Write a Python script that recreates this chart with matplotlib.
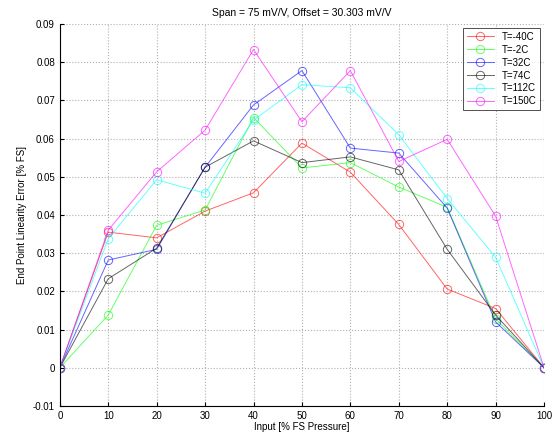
import numpy as np
import matplotlib
matplotlib.use('Agg')
import matplotlib.pyplot as plt

plt.rcParams['font.family'] = ['Liberation Sans', 'DejaVu Sans']

x = [0, 10, 20, 30, 40, 50, 60, 70, 80, 90, 100]

t_m40 = [0, 0.0355, 0.0340, 0.0410, 0.0458, 0.0588, 0.0512, 0.0375, 0.0206, 0.0155, 0]
t_m2 = [0, 0.0138, 0.0373, 0.0413, 0.0655, 0.0523, 0.0537, 0.0473, 0.0420, 0.0128, 0]
t_32 = [0, 0.0282, 0.0310, 0.0525, 0.0688, 0.0778, 0.0575, 0.0562, 0.0418, 0.0120, 0]
t_74 = [0, 0.0233, 0.0313, 0.0525, 0.0594, 0.0537, 0.0552, 0.0518, 0.0310, 0.0138, 0]
t_112 = [0, 0.0338, 0.0492, 0.0457, 0.0648, 0.0741, 0.0733, 0.0610, 0.0443, 0.0289, 0]
t_150 = [0, 0.0360, 0.0513, 0.0622, 0.0833, 0.0644, 0.0778, 0.0540, 0.0598, 0.0397, 0]

series = [
    ('T=-40C', t_m40, '#ff0000'),
    ('T=-2C', t_m2, '#00ff00'),
    ('T=32C', t_32, '#0000ff'),
    ('T=74C', t_74, '#000000'),
    ('T=112C', t_112, '#00ffff'),
    ('T=150C', t_150, '#ff00ff'),
]

fig = plt.figure(figsize=(5.54, 4.36), dpi=100)
ax = fig.add_axes([0.108, 0.069, 0.874, 0.876])

for name, vals, col in series:
    ax.plot(x, vals, color=col, linewidth=0.7, alpha=0.6,
            marker='o', markersize=6, markerfacecolor='none',
            markeredgewidth=0.7, label=name)

ax.set_xlim(0, 100)
ax.set_ylim(-0.01, 0.09)
ax.set_xticks(np.arange(0, 101, 10))
ax.set_yticks(np.arange(-0.01, 0.091, 0.01))
ax.set_yticklabels(['-0.01', '0', '0.01', '0.02', '0.03', '0.04', '0.05',
                    '0.06', '0.07', '0.08', '0.09'])
ax.tick_params(labelsize=7, direction='in', length=3)
ax.grid(True, linestyle=':', color='#b0b0b0', linewidth=0.8)
ax.spines['top'].set_visible(False)
ax.spines['right'].set_visible(False)

ax.set_title('Span = 75 mV/V, Offset = 30.303 mV/V', fontsize=7.5, pad=6)
ax.set_xlabel('Input [% FS Pressure]', fontsize=7, labelpad=1)
ax.set_ylabel('End Point Linearity Error [% FS]', fontsize=7, labelpad=4)

leg = ax.legend(loc='upper right', fontsize=7, frameon=True, fancybox=False,
                handlelength=2.8, borderaxespad=0.4, labelspacing=0.3)
leg.get_frame().set_edgecolor('black')
leg.get_frame().set_linewidth(0.6)

fig.savefig('out.png', dpi=100)
